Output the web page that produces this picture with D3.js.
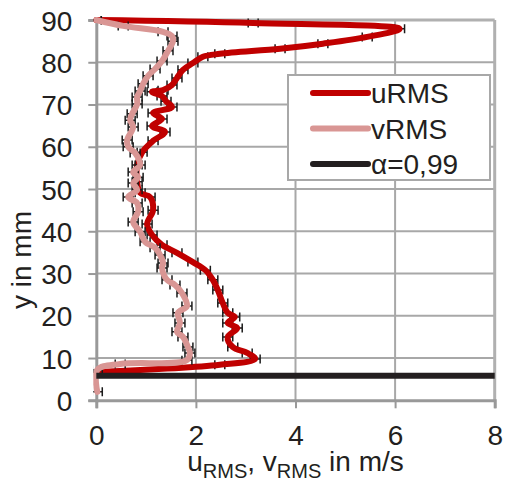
<!DOCTYPE html>
<html>
<head>
<meta charset="utf-8">
<script src="https://cdn.jsdelivr.net/npm/d3@7"></script>
<style>
  html, body { margin: 0; padding: 0; background: #fff; }
  svg { display: block; font-family: "Liberation Sans", Arial, sans-serif; }
</style>
</head>
<body>
<svg id="chart" width="506" height="483"></svg>
<script>
// Wall-normal position y (mm) and RMS velocity profiles (m/s)
const yU = [90, 89.3, 87.9, 86.0, 84.4, 83.2, 82.0, 81.3, 79.8, 78.2, 76.3, 74.6, 73.4, 73.0, 72.0, 70.8, 69.4, 68.0, 66.6, 64.9, 63.5, 61.4, 58.7, 55.7, 51.7, 49.1, 48.1, 45.0, 41.7, 39.1, 36.8, 34.9, 32.7, 30.8, 28.5, 26.1, 23.0, 20.7, 19.7, 18.3, 17.1, 15.0, 12.6, 11.2, 9.8, 8.4, 6.7];
const uRMS = [0, 3.15, 6.09, 5.44, 4.55, 3.69, 2.48, 2.14, 1.94, 1.74, 1.62, 1.52, 1.34, 1.12, 1.32, 1.40, 1.52, 1.14, 1.32, 1.12, 1.38, 1.14, 0.92, 0.82, 0.82, 0.88, 1.08, 1.14, 1.02, 1.12, 1.32, 1.62, 1.94, 2.19, 2.34, 2.44, 2.54, 2.64, 2.78, 2.64, 2.83, 2.64, 2.74, 3.03, 3.19, 2.48, 0.02];

const yV = [90, 88.6, 87.2, 86.2, 85.0, 82.7, 80.3, 78.4, 76.8, 74.9, 73.2, 71.8, 70.1, 67.8, 66.3, 64.7, 61.6, 60.0, 58.5, 55.7, 54.0, 52.8, 51.4, 49.8, 48.1, 46.7, 44.6, 42.2, 39.9, 37.5, 36.1, 34.4, 32.5, 31.3, 28.5, 27.3, 25.4, 22.3, 20.7, 18.3, 16.2, 15.0, 12.6, 11.2, 9.5, 8.6, 7.2, 2.0];
const vRMS = [0, 0.54, 1.34, 1.52, 1.54, 1.44, 1.32, 1.18, 1.04, 0.94, 0.88, 0.82, 0.82, 0.72, 0.68, 0.74, 0.62, 0.64, 0.78, 0.88, 0.74, 0.84, 0.74, 0.82, 0.64, 0.82, 0.84, 0.74, 0.88, 0.98, 1.18, 1.28, 1.34, 1.32, 1.42, 1.58, 1.72, 1.82, 1.64, 1.68, 1.62, 1.74, 1.84, 1.88, 1.82, 0.48, 0.02, 0.02];

// Measurement uncertainty (horizontal error bars, m/s)
const errU = 0.1;
const errV = 0.1;

// Boundary-layer edge line (alpha = 0.99)
const alphaX = [0, 8];
const alphaY = [5.8, 5.8];

const xTicks = [0, 2, 4, 6, 8];
const yTicks = [0, 10, 20, 30, 40, 50, 60, 70, 80, 90];

const seriesNames = ["uRMS", "vRMS", "α=0,99"];
const seriesColors = ["#c00000", "#d99694", "#231f20"];

const svg = d3.select("#chart");
const x = d3.scaleLinear().domain([0, 8]).range([96.3, 494.7]);
const y = d3.scaleLinear().domain([0, 90]).range([400.3, 20]);

const gridColor = "#a8a8a8";
const axisColor = "#999999";
const textColor = "#231f20";

// Grid lines
const grid = svg.append("g");
grid.selectAll("line.v").data(xTicks.slice(1, -1)).join("line")
  .attr("x1", d => x(d)).attr("x2", d => x(d))
  .attr("y1", y(0)).attr("y2", y(90))
  .attr("stroke", gridColor).attr("stroke-width", 2);
grid.selectAll("line.h").data(yTicks.slice(1, -1)).join("line")
  .attr("x1", x(0)).attr("x2", x(8))
  .attr("y1", d => y(d)).attr("y2", d => y(d))
  .attr("stroke", gridColor).attr("stroke-width", 2);

// Plot-area frame (top and right)
svg.append("line").attr("x1", x(0)).attr("x2", x(8)).attr("y1", y(90)).attr("y2", y(90))
  .attr("stroke", "#b0b0b0").attr("stroke-width", 3);
svg.append("line").attr("x1", x(8)).attr("x2", x(8)).attr("y1", y(0)).attr("y2", y(90))
  .attr("stroke", "#b0b0b0").attr("stroke-width", 3);

// Axes
const xAxis = d3.axisBottom(x).tickValues(xTicks).tickSize(8).tickPadding(8).tickFormat(d3.format("d"));
const yAxis = d3.axisLeft(y).tickValues(yTicks).tickSize(8).tickPadding(16).tickFormat(d3.format("d"));

const gx = svg.append("g").attr("transform", `translate(0,${y(0)})`).call(xAxis);
const gy = svg.append("g").attr("transform", `translate(${x(0)},0)`).call(yAxis);
[gx, gy].forEach(g => {
  g.select(".domain").attr("stroke", axisColor).attr("stroke-width", 3);
  g.selectAll(".tick line").attr("stroke", axisColor).attr("stroke-width", 2);
  g.selectAll(".tick text").attr("fill", textColor).attr("font-size", 28)
    .attr("font-family", "Liberation Sans, Arial, sans-serif");
});
gx.selectAll(".tick text").attr("dy", null).attr("y", 45);
gy.selectAll(".tick text").attr("dy", "0.36em");

// Axis titles
svg.append("text")
  .attr("transform", "translate(31,260) rotate(-90)")
  .attr("text-anchor", "middle")
  .attr("font-size", 28).attr("fill", textColor)
  .text("y in mm");

const xt = svg.append("text")
  .attr("x", x(4)).attr("y", 470.5)
  .attr("text-anchor", "middle")
  .attr("font-size", 28).attr("fill", textColor);
xt.append("tspan").text("u");
xt.append("tspan").attr("font-size", 20).attr("dy", 7.5).text("RMS");
xt.append("tspan").attr("dy", -7.5).text(", v");
xt.append("tspan").attr("font-size", 20).attr("dy", 7.5).text("RMS");
xt.append("tspan").attr("dy", -7.5).text(" in m/s");

// Clip data to plot area
svg.append("clipPath").attr("id", "plotClip")
  .append("rect").attr("x", x(0) - 3).attr("y", y(90) - 4)
  .attr("width", x(8) - x(0) + 6).attr("height", y(0) - y(90) + 8);

const plot = svg.append("g").attr("clip-path", "url(#plotClip)");

const line = d3.line()
  .x(d => x(d[0])).y(d => y(d[1]))
  .curve(d3.curveCatmullRom.alpha(0.5));

function errorBars(g, xs, ys, err) {
  const pts = xs.map((v, i) => [v, ys[i]]);
  const eb = g.append("g").attr("stroke", "#1a1a1a").attr("stroke-width", 1.5);
  eb.selectAll("line.w").data(pts).join("line")
    .attr("x1", d => x(d[0] - err)).attr("x2", d => x(d[0] + err))
    .attr("y1", d => y(d[1])).attr("y2", d => y(d[1]));
  eb.selectAll("line.lo").data(pts).join("line")
    .attr("x1", d => x(d[0] - err)).attr("x2", d => x(d[0] - err))
    .attr("y1", d => y(d[1]) - 4.5).attr("y2", d => y(d[1]) + 4.5);
  eb.selectAll("line.hi").data(pts).join("line")
    .attr("x1", d => x(d[0] + err)).attr("x2", d => x(d[0] + err))
    .attr("y1", d => y(d[1]) - 4.5).attr("y2", d => y(d[1]) + 4.5);
}

// uRMS
errorBars(plot, uRMS, yU, errU);
plot.append("path")
  .datum(uRMS.map((v, i) => [v, yU[i]]))
  .attr("d", line)
  .attr("fill", "none").attr("stroke", seriesColors[0])
  .attr("stroke-width", 6).attr("stroke-linejoin", "round").attr("stroke-linecap", "round");

// vRMS
errorBars(plot, vRMS, yV, errV);
plot.append("path")
  .datum(vRMS.map((v, i) => [v, yV[i]]))
  .attr("d", line)
  .attr("fill", "none").attr("stroke", seriesColors[1])
  .attr("stroke-width", 6).attr("stroke-linejoin", "round").attr("stroke-linecap", "round");

// alpha = 0.99 line
plot.append("path")
  .datum(alphaX.map((v, i) => [v, alphaY[i]]))
  .attr("d", d3.line().x(d => x(d[0])).y(d => y(d[1])))
  .attr("fill", "none").attr("stroke", seriesColors[2]).attr("stroke-width", 6);

// Legend
const legend = svg.append("g");
legend.append("rect")
  .attr("x", 288).attr("y", 75).attr("width", 202).attr("height", 105)
  .attr("fill", "#fff").attr("stroke", "#a8a8a8").attr("stroke-width", 2);
const rowY = [93, 128.5, 164];
seriesNames.forEach((name, i) => {
  legend.append("line")
    .attr("x1", 313).attr("x2", 368).attr("y1", rowY[i]).attr("y2", rowY[i])
    .attr("stroke", seriesColors[i]).attr("stroke-width", 6).attr("stroke-linecap", "round");
  legend.append("text")
    .attr("x", 371).attr("y", rowY[i] + 10)
    .attr("font-size", 28).attr("fill", textColor)
    .text(name);
});
</script>
</body>
</html>
